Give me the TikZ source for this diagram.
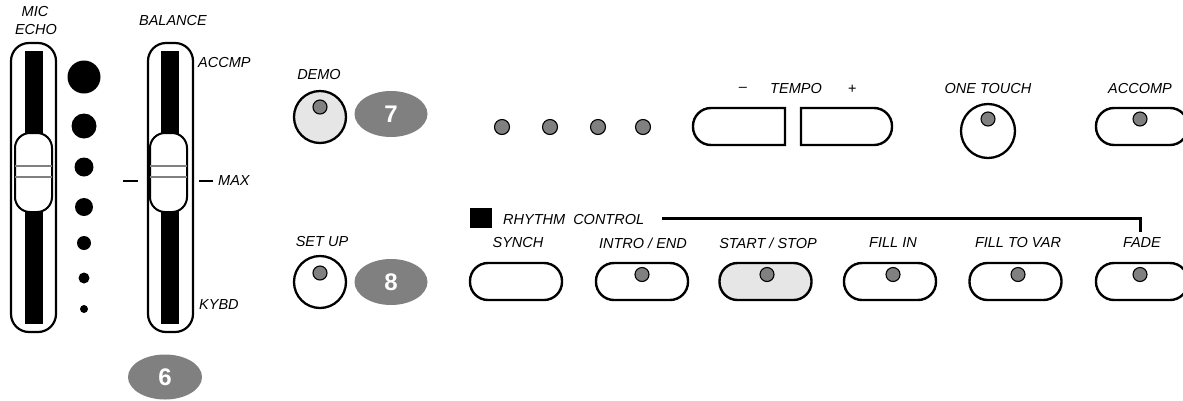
\documentclass[tikz,border=0pt]{standalone}
\usepackage{fontspec}
\setmainfont{Liberation Sans}
\usetikzlibrary{shapes.geometric}
\definecolor{ledgray}{HTML}{808080}
\definecolor{badgegray}{HTML}{808080}
\definecolor{lightfill}{HTML}{E6E6E6}
\begin{document}
\begin{tikzpicture}[x=1pt,y=-1pt,
  lbl/.style={font=\fontsize{14.5}{16}\selectfont\itshape, inner sep=0pt},
  led/.style={circle, draw=black, line width=1.1pt, fill=ledgray, minimum size=14pt, inner sep=0pt},
  btn/.style={draw=black, line width=2.4pt, rounded corners=18pt, minimum width=92pt, minimum height=37pt, fill=white, inner sep=0pt},
  rbtn/.style={circle, draw=black, line width=2.3pt, fill=white, inner sep=0pt},
  badge/.style={ellipse, fill=badgegray, minimum width=73pt, minimum height=46pt, text=white, inner sep=0pt, font=\fontsize{24}{24}\selectfont\bfseries},
  outer/.style={draw=black, line width=2.2pt, rounded corners=18pt, fill=white},
  knob/.style={draw=black, line width=2pt, rounded corners=15pt, fill=white},
  knobline/.style={draw=gray, line width=1.2pt},
  dot/.style={circle, fill=black, inner sep=0pt}
]
\useasboundingbox (0,0) rectangle (1183,400);
\clip (0,0) rectangle (1183,400);

% ---- MIC ECHO slider
\node[lbl] (mic) at (35,12) {MIC};
\node[lbl] (echo) at (36,30) {ECHO};
\draw[outer] (11,43) rectangle (56,332);
\fill[black] (25,51) rectangle (43,324);
\draw[knob] (15,133) rectangle (52,212);
\draw[knobline] (15,166) -- (52,166);
\draw[knobline] (15,177) -- (52,177);

% ---- dots
\node[dot, minimum size=33pt] (d1) at (84,77) {};
\node[dot, minimum size=25pt] (d2) at (84,126) {};
\node[dot, minimum size=19pt] (d3) at (84,167) {};
\node[dot, minimum size=18pt] (d4) at (84,207) {};
\node[dot, minimum size=14pt] (d5) at (84,243) {};
\node[dot, minimum size=11pt] (d6) at (84,278) {};
\node[dot, minimum size=8pt] (d7) at (84,309) {};

% ---- BALANCE slider
\node[lbl] (bal) at (173,21) {BALANCE};
\draw[outer] (148,43) rectangle (193,332);
\fill[black] (161,51) rectangle (179,324);
\draw[knob] (150,133) rectangle (187,212);
\draw[knobline] (150,166) -- (187,166);
\draw[knobline] (150,177) -- (187,177);
\draw[line width=2.6pt] (123,181) -- (138,181);
\draw[line width=2.6pt] (199,181) -- (213,181);
\node[lbl, anchor=west] (accmp) at (198,63) {ACCMP};
\node[lbl, anchor=west] (max) at (218,181) {MAX};
\node[lbl, anchor=west] (kybd) at (199,305) {KYBD};
\node[badge, minimum width=74pt, minimum height=45pt] (b6) at (165,377) {6};

% ---- DEMO / SET UP
\node[lbl] (demol) at (319,75) {DEMO};
\node[rbtn, fill=lightfill, minimum size=52pt] (demo) at (320,117) {};
\node[led] (demoled) at (320,107) {};
\node[badge] (b7) at (391,114) {7};

\node[lbl] (setupl) at (322,242) {SET UP};
\node[rbtn, minimum size=52pt] (setup) at (320,282) {};
\node[led] (setupled) at (320,273) {};
\node[badge] (b8) at (391,282) {8};

% ---- top LEDs
\node[led, minimum size=15pt] (l1) at (502,127) {};
\node[led, minimum size=15pt] (l2) at (550,127) {};
\node[led, minimum size=15pt] (l3) at (598,127) {};
\node[led, minimum size=15pt] (l4) at (643,127) {};

% ---- TEMPO
\node[lbl] (minus) at (743,89) {–};
\node[lbl] (tempo) at (796,89) {TEMPO};
\node[lbl] (plus) at (852,89) {+};
\draw[line width=2.4pt, fill=white] (785,108) [rounded corners=18pt]-- (693,108) -- (693,145) [sharp corners]-- (785,145) -- cycle;
\draw[line width=2.4pt, fill=white] (801,108) [rounded corners=18pt]-- (892,108) -- (892,145) [sharp corners]-- (801,145) -- cycle;

% ---- ONE TOUCH
\node[lbl] (onetl) at (988,89) {ONE TOUCH};
\node[rbtn, minimum size=54pt] (onet) at (988,131) {};
\node[led] (onetled) at (988,119) {};

% ---- ACCOMP
\node[lbl] (accompl) at (1140,89) {ACCOMP};
\node[btn] (accomp) at (1142,126.5) {};
\node[led] (accompled) at (1140,119) {};

% ---- RHYTHM CONTROL
\fill[black] (470,208) rectangle (492,228);
\node[lbl, anchor=west] (rc) at (503,220) {RHYTHM\ \ CONTROL};
\coordinate (rcend) at (1140,218);

\node[lbl] (synchl) at (518,243) {SYNCH};
\node[lbl] (introl) at (643,243) {INTRO / END};
\node[lbl] (startl) at (768,243) {START / STOP};
\node[lbl] (filll) at (893,243) {FILL IN};
\node[lbl] (fillvl) at (1018,243) {FILL TO VAR};
\node[lbl] (fadel) at (1142,243) {FADE};

\draw[line width=3pt] ([xshift=18pt]rc.east |- rcend) -- (rcend) -- (rcend |- 0,232);

\node[btn] (synch) at (516,281.5) {};
\node[btn] (intro) at (642,281.5) {};
\node[btn, fill=lightfill] (start) at (765.5,281.5) {};
\node[btn] (fill) at (890,281.5) {};
\node[btn] (fillv) at (1015.5,281.5) {};
\node[btn] (fade) at (1142,281.5) {};
\node[led] (introled) at (642,274.5) {};
\node[led] (startled) at (767,274.5) {};
\node[led] (fillled) at (893,274.5) {};
\node[led] (fillvled) at (1018,274.5) {};
\node[led] (fadeled) at (1140,274.5) {};
\end{tikzpicture}
\end{document}
